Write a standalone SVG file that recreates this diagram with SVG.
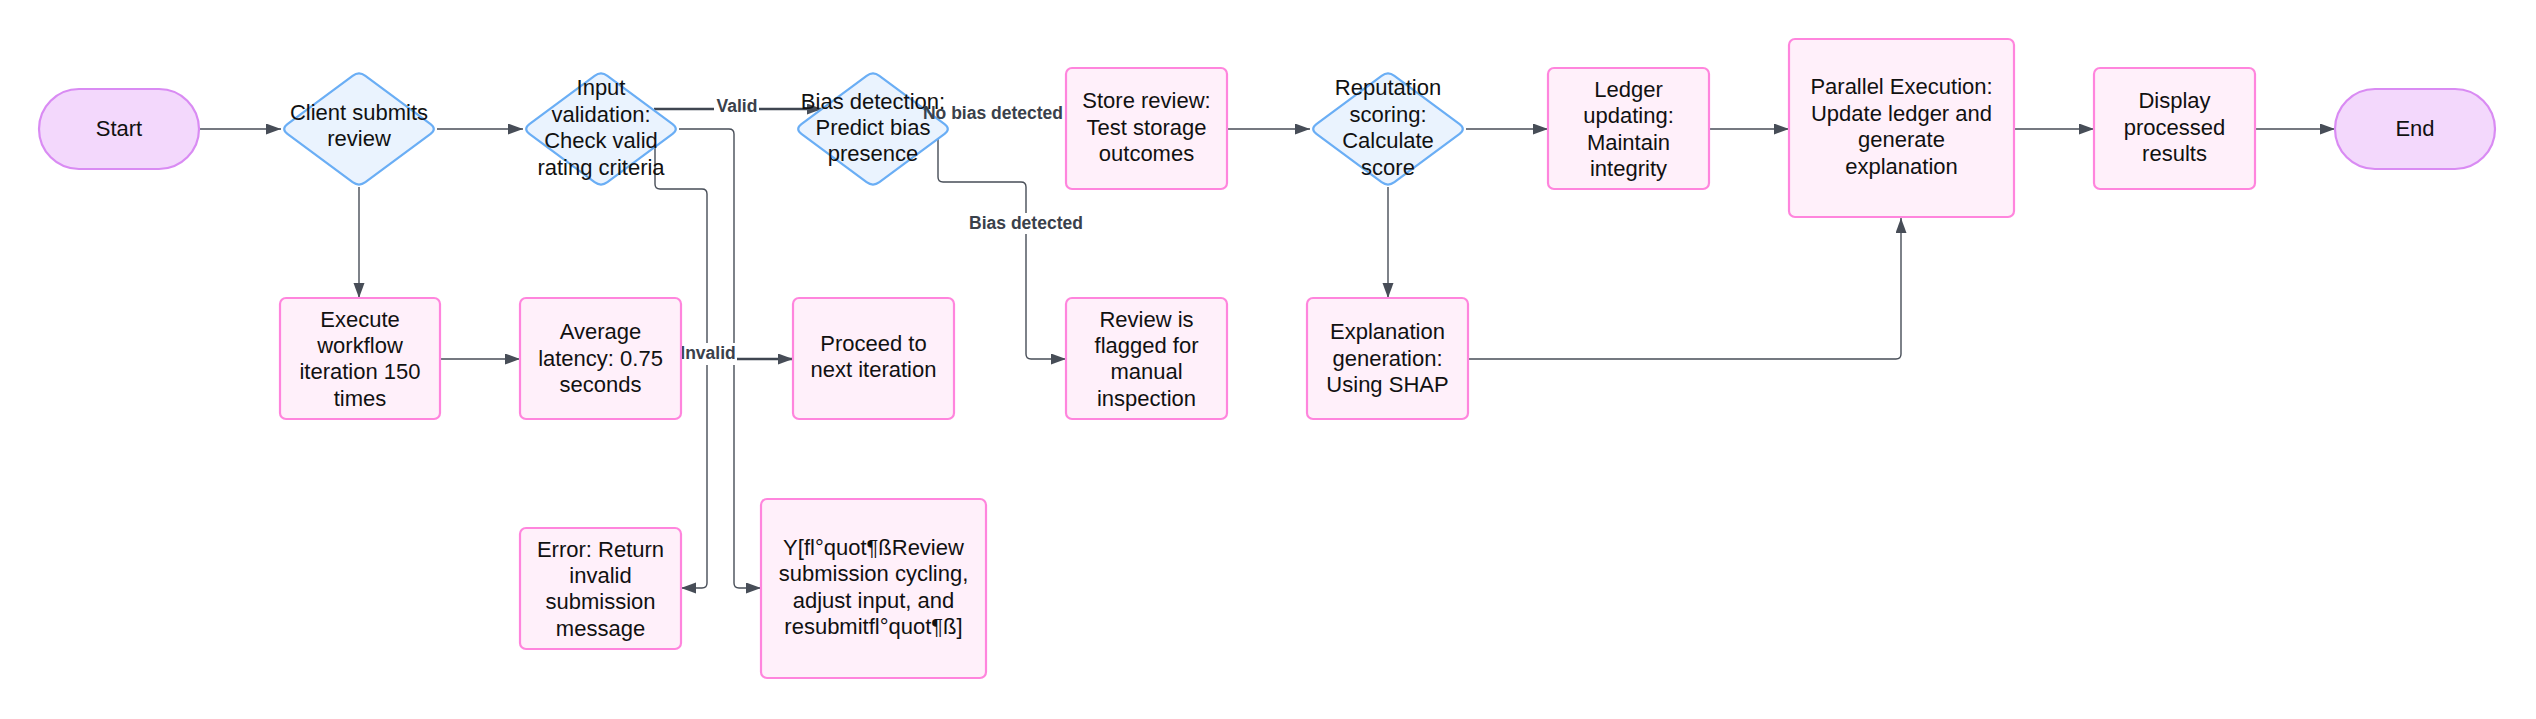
<svg xmlns="http://www.w3.org/2000/svg" xmlns:xlink="http://www.w3.org/1999/xlink" width="2536" height="719" viewBox="0 0 2536 719">
<style>
.term{fill:#f3d8fc;stroke:#d98bf3;stroke-width:2.2}
.proc{fill:#fff0fa;stroke:#ff85dd;stroke-width:2.2}
.dec{fill:#eaf3fe;stroke:#6aaef5;stroke-width:2.2}
.t{font-family:"Liberation Sans",Arial,sans-serif;font-size:22px;fill:#111;text-anchor:middle}
.c{fill:none;stroke:#474d57;stroke-width:1.4}
.ck{fill:none;stroke:#3f4651;stroke-width:2.6}
.lbl{font-family:"Liberation Sans",Arial,sans-serif;font-size:17.5px;font-weight:bold;fill:#3a414b;text-anchor:middle}
.lbg{fill:#ffffff}
</style>
<defs>
<marker id="ah" markerUnits="userSpaceOnUse" markerWidth="16" markerHeight="12" refX="15" refY="5.5" orient="auto">
<path d="M0,0 L15,5.5 L0,11 z" fill="#474d57"/>
</marker>
<path id="dia" d="M-6.4,-53.2 Q0,-58 6.4,-53.2 L71.6,-4.8 Q78,0 71.6,4.8 L6.4,53.2 Q0,58 -6.4,53.2 L-71.6,4.8 Q-78,0 -71.6,-4.8 Z"/>
</defs>
<rect width="2536" height="719" fill="#ffffff"/>

<g id="connectors">
<path class="c" d="M199,129 H281" marker-end="url(#ah)"/>
<path class="c" d="M437,129 H523" marker-end="url(#ah)"/>
<path class="ck" d="M654,109 H822" marker-end="url(#ah)"/>
<path class="c" d="M679,129 H729 Q734,129 734,134 V583 Q734,588 739,588 H761" marker-end="url(#ah)"/>
<path class="c" d="M655,147 V184 Q655,189 660,189 H702 Q707,189 707,194 V583 Q707,588 702,588 H681" marker-end="url(#ah)"/>
<path class="c" d="M359,187 V298" marker-end="url(#ah)"/>
<path class="c" d="M440,359 H520" marker-end="url(#ah)"/>
<path class="ck" d="M681,359 H793" marker-end="url(#ah)"/>
<path class="c" d="M938,138 V177 Q938,182 943,182 H1021 Q1026,182 1026,187 V354 Q1026,359 1031,359 H1066" marker-end="url(#ah)"/>
<path class="c" d="M1227,129 H1310" marker-end="url(#ah)"/>
<path class="c" d="M1466,129 H1548" marker-end="url(#ah)"/>
<path class="c" d="M1388,187 V298" marker-end="url(#ah)"/>
<path class="c" d="M1709,129 H1789" marker-end="url(#ah)"/>
<path class="c" d="M1468,359 H1896 Q1901,359 1901,354 V218" marker-end="url(#ah)"/>
<path class="c" d="M2014,129 H2094" marker-end="url(#ah)"/>
<path class="c" d="M2255,129 H2335" marker-end="url(#ah)"/>
<rect class="lbg" x="714" y="97" width="45" height="20"/>
<text class="lbl" x="737" y="112">Valid</text>
<rect class="lbg" x="679" y="343" width="58" height="22"/>
<text class="lbl" x="708" y="359">Invalid</text>
<rect class="lbg" x="969" y="213" width="114" height="21"/>
<text class="lbl" x="1026" y="229">Bias detected</text>
</g>

<g id="start">
<rect class="term" x="39" y="89" width="160" height="80" rx="40"/>
<text class="t" x="119" y="135.5">Start</text>
</g>
<g id="client-submits">
<use href="#dia" x="359" y="129" class="dec"/>
<text class="t"><tspan x="359" y="120">Client submits</tspan><tspan x="359" y="146.4">review</tspan></text>
</g>
<g id="input-validation">
<use href="#dia" x="601" y="129" class="dec"/>
<text class="t"><tspan x="601" y="95.4">Input</tspan><tspan x="601" y="121.8">validation:</tspan><tspan x="601" y="148.2">Check valid</tspan><tspan x="601" y="174.6">rating criteria</tspan></text>
</g>
<g id="bias-detection">
<use href="#dia" x="873" y="129" class="dec"/>
<text class="t"><tspan x="873" y="108.6">Bias detection:</tspan><tspan x="873" y="135">Predict bias</tspan><tspan x="873" y="161.4">presence</tspan></text>
<text class="lbl" x="993" y="119">No bias detected</text>
</g>
<g id="store-review">
<rect class="proc" x="1066" y="68" width="161" height="121" rx="6"/>
<text class="t"><tspan x="1146.5" y="108.1">Store review:</tspan><tspan x="1146.5" y="134.5">Test storage</tspan><tspan x="1146.5" y="160.9">outcomes</tspan></text>
</g>
<g id="reputation-scoring">
<use href="#dia" x="1388" y="129" class="dec"/>
<text class="t"><tspan x="1388" y="95.4">Reputation</tspan><tspan x="1388" y="121.8">scoring:</tspan><tspan x="1388" y="148.2">Calculate</tspan><tspan x="1388" y="174.6">score</tspan></text>
</g>
<g id="ledger-updating">
<rect class="proc" x="1548" y="68" width="161" height="121" rx="6"/>
<text class="t"><tspan x="1628.5" y="97">Ledger</tspan><tspan x="1628.5" y="123.4">updating:</tspan><tspan x="1628.5" y="149.8">Maintain</tspan><tspan x="1628.5" y="176.2">integrity</tspan></text>
</g>
<g id="parallel-execution">
<rect class="proc" x="1789" y="39" width="225" height="178" rx="6"/>
<text class="t"><tspan x="1901.5" y="94.4">Parallel Execution:</tspan><tspan x="1901.5" y="120.8">Update ledger and</tspan><tspan x="1901.5" y="147.2">generate</tspan><tspan x="1901.5" y="173.6">explanation</tspan></text>
</g>
<g id="display-results">
<rect class="proc" x="2094" y="68" width="161" height="121" rx="6"/>
<text class="t"><tspan x="2174.5" y="108.1">Display</tspan><tspan x="2174.5" y="134.5">processed</tspan><tspan x="2174.5" y="160.9">results</tspan></text>
</g>
<g id="end">
<rect class="term" x="2335" y="89" width="160" height="80" rx="40"/>
<text class="t" x="2415" y="135.5">End</text>
</g>
<g id="execute-workflow">
<rect class="proc" x="280" y="298" width="160" height="121" rx="6"/>
<text class="t"><tspan x="360" y="326.5">Execute</tspan><tspan x="360" y="352.9">workflow</tspan><tspan x="360" y="379.3">iteration 150</tspan><tspan x="360" y="405.7">times</tspan></text>
</g>
<g id="average-latency">
<rect class="proc" x="520" y="298" width="161" height="121" rx="6"/>
<text class="t"><tspan x="600.5" y="339.1">Average</tspan><tspan x="600.5" y="365.5">latency: 0.75</tspan><tspan x="600.5" y="391.9">seconds</tspan></text>
</g>
<g id="proceed-next">
<rect class="proc" x="793" y="298" width="161" height="121" rx="6"/>
<text class="t"><tspan x="873.5" y="351">Proceed to</tspan><tspan x="873.5" y="377.4">next iteration</tspan></text>
</g>
<g id="review-flagged">
<rect class="proc" x="1066" y="298" width="161" height="121" rx="6"/>
<text class="t"><tspan x="1146.5" y="326.5">Review is</tspan><tspan x="1146.5" y="352.9">flagged for</tspan><tspan x="1146.5" y="379.3">manual</tspan><tspan x="1146.5" y="405.7">inspection</tspan></text>
</g>
<g id="explanation-generation">
<rect class="proc" x="1307" y="298" width="161" height="121" rx="6"/>
<text class="t"><tspan x="1387.5" y="339.1">Explanation</tspan><tspan x="1387.5" y="365.5">generation:</tspan><tspan x="1387.5" y="391.9">Using SHAP</tspan></text>
</g>
<g id="error-return">
<rect class="proc" x="520" y="528" width="161" height="121" rx="6"/>
<text class="t"><tspan x="600.5" y="556.5">Error: Return</tspan><tspan x="600.5" y="582.9">invalid</tspan><tspan x="600.5" y="609.3">submission</tspan><tspan x="600.5" y="635.7">message</tspan></text>
</g>
<g id="resubmit">
<rect class="proc" x="761" y="499" width="225" height="179" rx="6"/>
<text class="t"><tspan x="873.5" y="555">Y[fl°quot¶ßReview</tspan><tspan x="873.5" y="581.4">submission cycling,</tspan><tspan x="873.5" y="607.8">adjust input, and</tspan><tspan x="873.5" y="634.2">resubmitfl°quot¶ß]</tspan></text>
</g>
</svg>
